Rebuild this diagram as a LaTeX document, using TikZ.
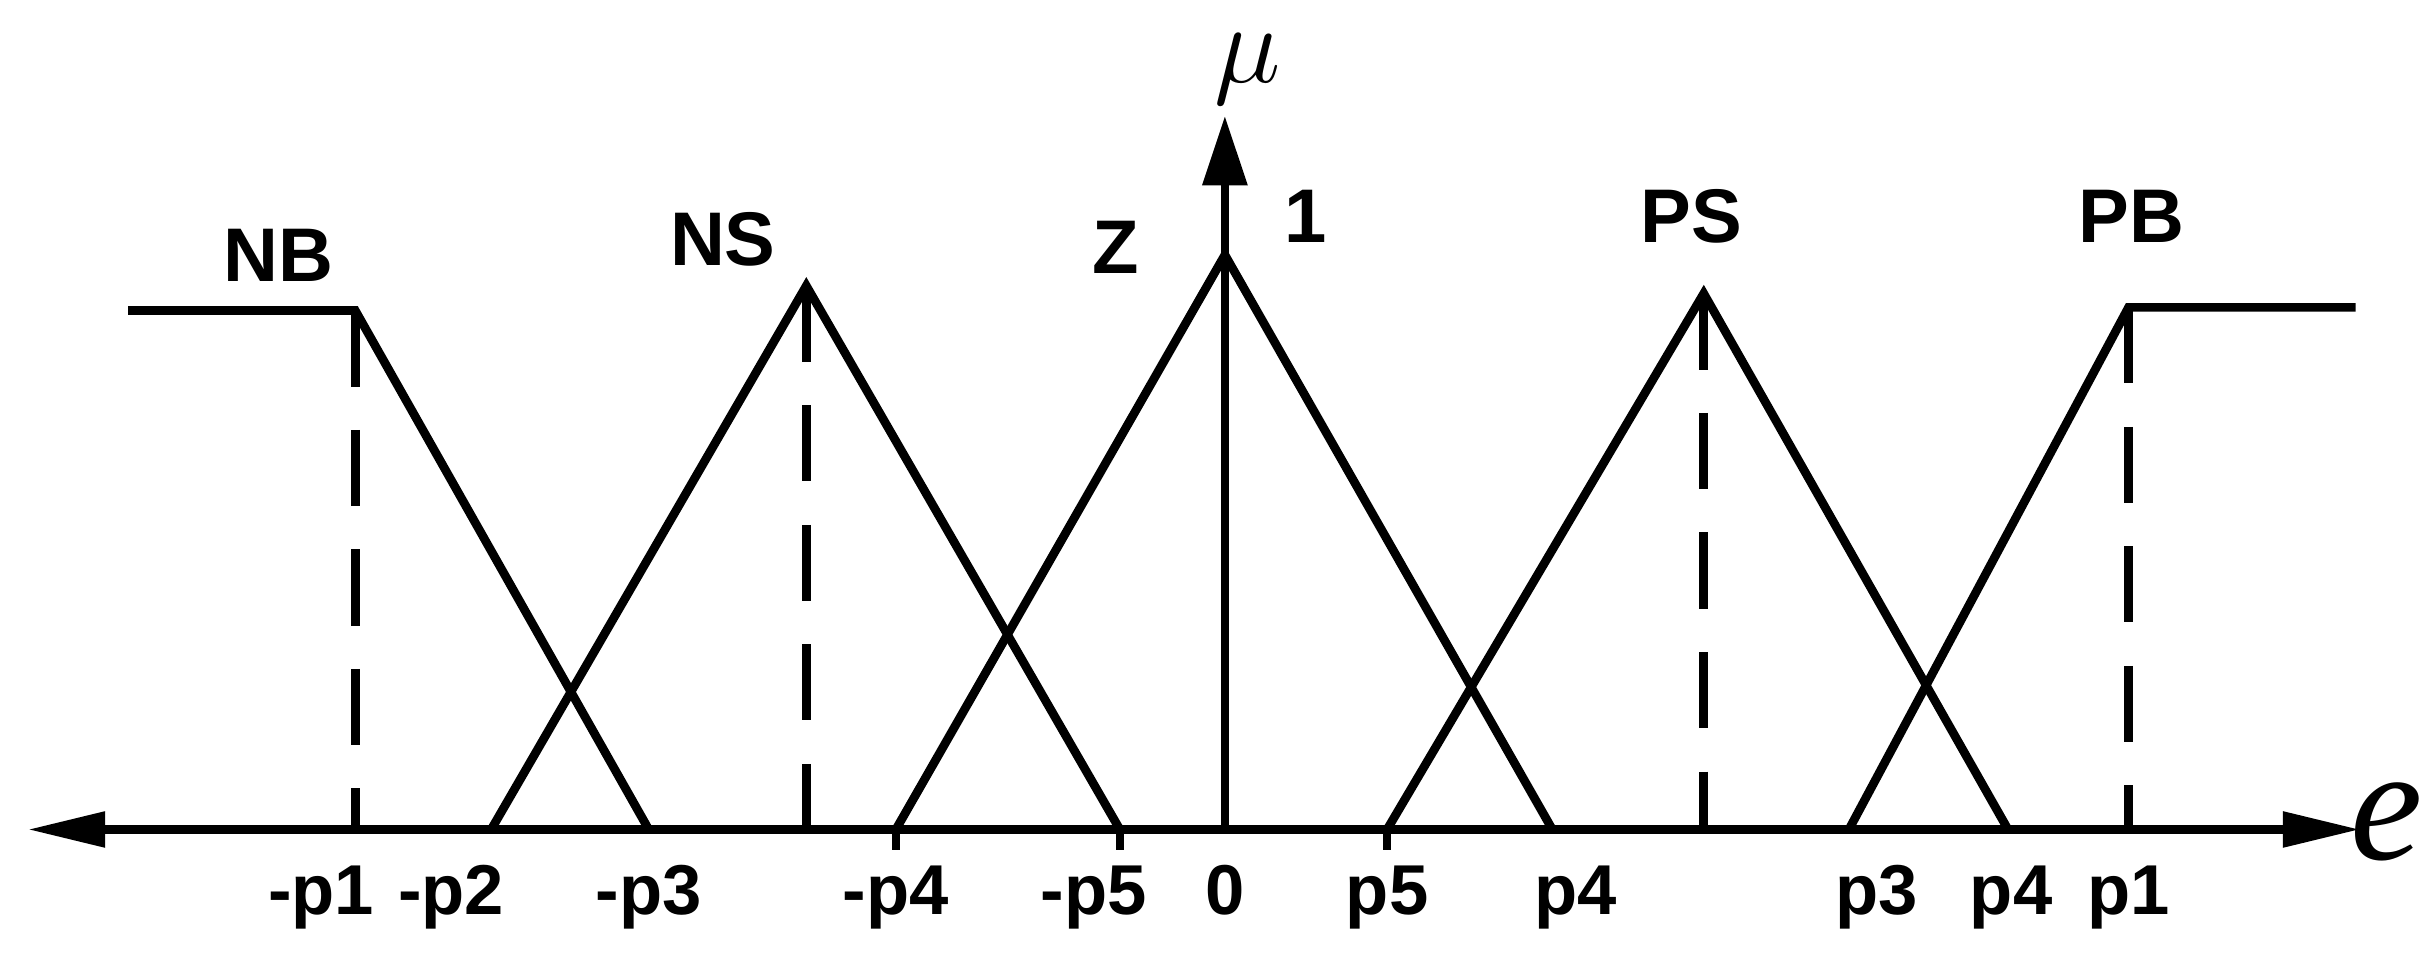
\documentclass[tikz,border=0pt]{standalone}
\usepackage{fontspec}
\setmainfont{Liberation Sans}
\newfontfamily\serifit{Liberation Serif}
\usetikzlibrary{arrows.meta}
\begin{document}
\begin{tikzpicture}[x=0.01cm,y=-0.01cm,
  ln/.style={line width=1.6pt,line join=miter},
  dsh/.style={line width=1.6pt,dash pattern=on 14pt off 8pt},
  lab/.style={font=\bfseries\fontsize{14}{16}\selectfont,inner sep=0pt},
  tk/.style={font=\bfseries\fontsize{13}{15}\selectfont,inner sep=0pt,anchor=base}]
\useasboundingbox (0,0) rectangle (1568,632.5);
% axes
\coordinate (L) at (18,537); \coordinate (R) at (1528,537);
\coordinate (O) at (793,537); \coordinate (T) at (793,75);
\draw[ln,{Triangle[length=0.5cm,width=0.22cm]}-{Triangle[length=0.5cm,width=0.22cm]}] (L) -- (R);
\draw[ln,-{Triangle[length=0.45cm,width=0.28cm]}] (O) -- (T);
\node[font=\serifit\itshape\fontsize{22}{24}\selectfont,inner sep=0pt] (mu) at (808,45) {$\mu$};
\node[font=\serifit\itshape\fontsize{30}{32}\selectfont,inner sep=0pt] (e) at (1545,532) {e};
\node[lab] (one) at (845,140) {1};
% membership functions
\draw[ln] (83,201) -- (230,201) -- (420,537);
\draw[ln] (318,537) -- (522,185) -- (725,537);
\draw[ln] (580,537) -- (793,165) -- (1005,537);
\draw[ln] (898,537) -- (1103,190) -- (1300,537);
\draw[ln] (1197,537) -- (1378,199) -- (1525,199);
\draw[dsh] (230,201) -- (230,537);
\draw[dsh] (522,185) -- (522,537);
\draw[dsh] (1103,190) -- (1103,537);
\draw[dsh] (1378,199) -- (1378,537);
\draw[ln] (580,537) -- (580,550); \draw[ln] (725,537) -- (725,550);
\draw[ln] (898,537) -- (898,550);
% labels
\node[lab] (nb) at (180,165) {NB};
\node[lab] (ns) at (468,155) {NS};
\node[lab] (z) at (722,160) {Z};
\node[lab] (ps) at (1095,140) {PS};
\node[lab] (pb) at (1380,140) {PB};
\foreach \x/\t in {208/-p1,292/-p2,420/-p3,580/-p4,708/-p5,793/0,898/p5,1020/p4,1215/p3,1302/p4,1378/p1}
  \node[tk] at (\x,592) {\t};
\end{tikzpicture}
\end{document}
